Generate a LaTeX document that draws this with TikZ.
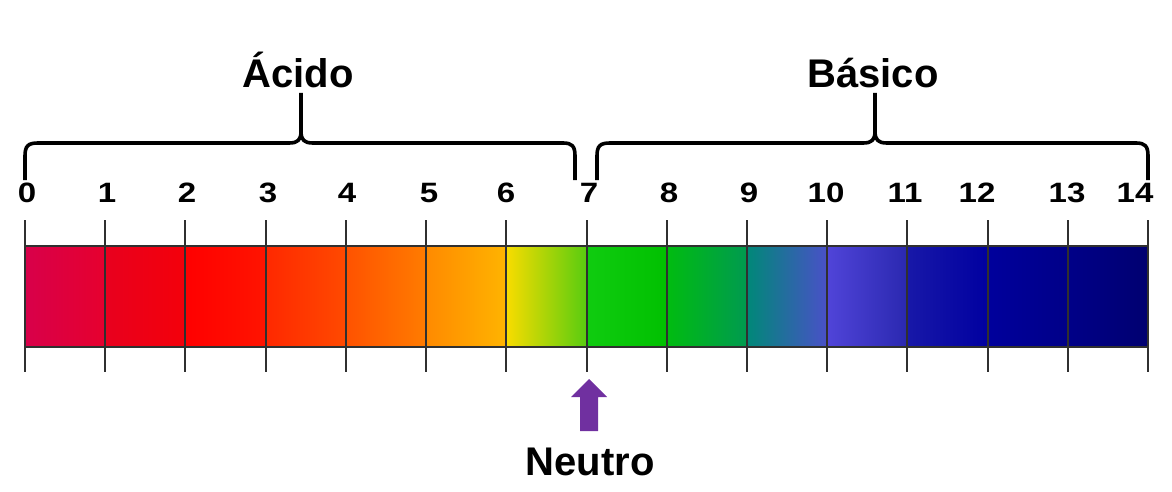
\documentclass[tikz,border=0pt]{standalone}
\usepackage{fontspec}
\setmainfont{Liberation Sans}
\definecolor{c0a}{HTML}{D8004A}\definecolor{c0b}{HTML}{E6002E}
\definecolor{c1a}{HTML}{E8001E}\definecolor{c1b}{HTML}{F4000A}
\definecolor{c2a}{HTML}{FF0000}\definecolor{c2b}{HTML}{FF1400}
\definecolor{c3a}{HTML}{FF2800}\definecolor{c3b}{HTML}{FF4A00}
\definecolor{c4a}{HTML}{FF5200}\definecolor{c4b}{HTML}{FF7C00}
\definecolor{c5a}{HTML}{FF8A00}\definecolor{c5b}{HTML}{FFB400}
\definecolor{c6a}{HTML}{F8DC00}\definecolor{c6b}{HTML}{58CC10}
\definecolor{c7a}{HTML}{10CC10}\definecolor{c7b}{HTML}{00C000}
\definecolor{c8a}{HTML}{00BC10}\definecolor{c8b}{HTML}{009A50}
\definecolor{c9a}{HTML}{008878}\definecolor{c9b}{HTML}{4A50C8}
\definecolor{c10a}{HTML}{5044D8}\definecolor{c10b}{HTML}{2A28B0}
\definecolor{c11a}{HTML}{1818A8}\definecolor{c11b}{HTML}{0000A0}
\definecolor{c12a}{HTML}{00009C}\definecolor{c12b}{HTML}{000088}
\definecolor{c13a}{HTML}{000088}\definecolor{c13b}{HTML}{000070}
\definecolor{tickgray}{HTML}{303030}
\definecolor{arrowpurple}{HTML}{7030A0}
\begin{document}
\begin{tikzpicture}[x=1pt,y=-1pt,
  num/.style={anchor=base,inner sep=0pt,font=\fontsize{28}{30}\selectfont\bfseries},
  title/.style={anchor=base,inner sep=0pt,font=\fontsize{40}{44}\selectfont\bfseries},
  tickline/.style={draw=tickgray,line width=2pt},
  baredge/.style={draw=tickgray,line width=1.6pt},
  bracepath/.style={draw=black,line width=3.6pt,line join=round}]
\useasboundingbox (0,0) rectangle (1172,492);
% gradient segments
\foreach \i/\ca/\cb in {0/c0a/c0b,1/c1a/c1b,2/c2a/c2b,3/c3a/c3b,4/c4a/c4b,5/c5a/c5b,6/c6a/c6b,7/c7a/c7b,8/c8a/c8b,9/c9a/c9b,10/c10a/c10b,11/c11a/c11b,12/c12a/c12b,13/c13a/c13b}
  \shade[left color=\ca,right color=\cb] ({25+80.214*\i},246) rectangle ({25+80.214*(\i+1)+0.3},347);
\draw[baredge] (25,246) -- (1148,246);
\draw[baredge] (25,347) -- (1148,347);
% ticks
\foreach \i in {0,...,14}{
  \coordinate (ta\i) at ({25+80.214*\i},220);
  \coordinate (tb\i) at ({25+80.214*\i},372);
  \draw[tickline] (ta\i) -- (tb\i);
}
% numbers
\foreach \i/\x in {0/27,1/107,2/187,3/268,4/347,5/429,6/506,7/589,8/669,9/749,10/826,11/905,12/977,13/1067,14/1135}
  \node[num] (n\i) at (\x,202) {\scalebox{1.18}[1]{\i}};
% titles
\node[title] (acido) at (298,88) {Ácido};
\node[title] (basico) at (873,88) {Básico};
\node[title] (neutro) at (590,475) {Neutro};
% braces
\coordinate (la) at (25,180);
\coordinate (lt) at (301,93);
\coordinate (lb) at (575,180);
\draw[bracepath] (la) -- (25,156) .. controls (25,146) and (28,143) .. (38,143)
  -- (289,143) .. controls (298,143) and (301,140) .. (301,131) -- (lt);
\draw[bracepath] (301,131) .. controls (301,140) and (304,143) .. (313,143)
  -- (563,143) .. controls (572,143) and (575,146) .. (575,156) -- (lb);
\coordinate (ra) at (597,180);
\coordinate (rt) at (875,93);
\coordinate (rb) at (1148,180);
\draw[bracepath] (ra) -- (597,156) .. controls (597,146) and (600,143) .. (610,143)
  -- (863,143) .. controls (872,143) and (875,140) .. (875,131) -- (rt);
\draw[bracepath] (875,131) .. controls (875,140) and (878,143) .. (887,143)
  -- (1136,143) .. controls (1145,143) and (1148,146) .. (1148,156) -- (rb);
% arrow
\coordinate (atip) at (589,379);
\fill[arrowpurple] (580,431) -- (580,397) -- (571,397) -- (atip) -- (607,397) -- (598,397) -- (598,431) -- cycle;
\end{tikzpicture}
\end{document}
